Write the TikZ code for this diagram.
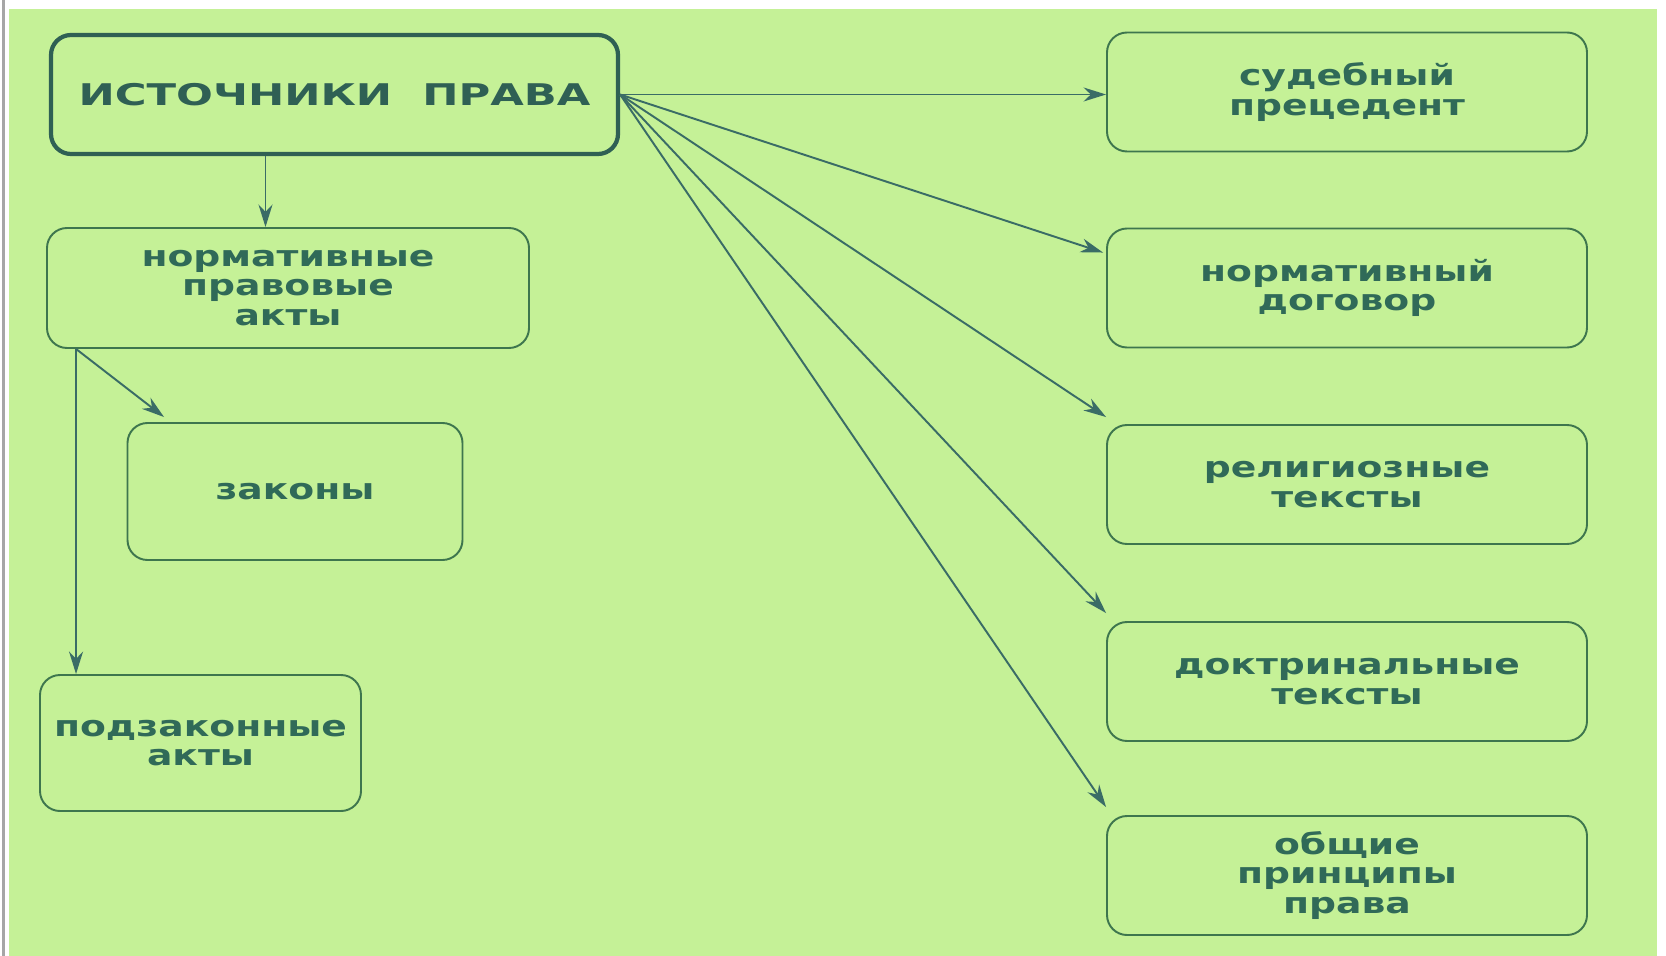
\documentclass[tikz,border=0pt]{standalone}
\usepackage{fontspec}
\usetikzlibrary{arrows.meta}
\newfontfamily\headfont{DejaVu Sans Bold}[FakeStretch=1.45]
\newfontfamily\boxfont{DejaVu Sans Bold}[FakeStretch=1.3]
\definecolor{bggreen}{RGB}{197,241,151}
\definecolor{boxline}{RGB}{62,118,78}
\definecolor{headline}{RGB}{47,96,84}
\definecolor{arrowcol}{RGB}{58,108,102}
\definecolor{textcol}{RGB}{48,106,88}

\tikzset{
	srcbox/.style={draw=headline, line width=2.4pt, rounded corners=0.4cm, minimum width=11.34cm, minimum height=2.38cm, inner sep=0pt, text=headline, font=\headfont\fontsize{17}{17}\selectfont},
	kindbox/.style={draw=boxline, line width=1.1pt, rounded corners=0.4cm, inner sep=0pt, align=center, text=textcol, font=\boxfont\fontsize{16.5}{16.8}\selectfont},
	rightbox/.style={kindbox, minimum width=9.6cm, minimum height=2.38cm},
	arr/.style={draw=arrowcol, line width=1.1pt, -{Stealth[length=0.45cm, width=0.28cm]}}
}

\begin{document}
\begin{tikzpicture}
		\useasboundingbox (0, 0) rectangle (33.32, -19.12);
		\fill[white] (0, 0) rectangle (33.32, -19.12);
		\fill[gray!70] (0.04, 0) rectangle (0.1, -19.12);
		\fill[bggreen] (0.18, -0.18) rectangle (33.14, -19.12);

		\node[srcbox] (src) at (6.69, -1.89) {ИСТОЧНИКИ\ \ ПРАВА};
		\node[kindbox, minimum width=9.64cm, minimum height=2.4cm] (npa) at (5.76, -5.76) {нормативные\\правовые\\акты};
		\node[kindbox, minimum width=6.7cm, minimum height=2.74cm] (zak) at (5.9, -9.83) {законы};
		\node[kindbox, minimum width=6.42cm, minimum height=2.72cm] (podz) at (4.01, -14.86) {подзаконные\\акты};

		\node[rightbox] (sud) at (26.94, -1.84) {судебный\\прецедент};
		\node[rightbox] (dog) at (26.94, -5.76) {нормативный\\договор};
		\node[rightbox] (rel) at (26.94, -9.69) {религиозные\\тексты};
		\node[rightbox] (dok) at (26.94, -13.63) {доктринальные\\тексты};
		\node[rightbox] (obsh) at (26.94, -17.51) {общие\\принципы\\права};

		\coordinate (srcfoot) at ([xshift=-1.38cm]src.south);
		\coordinate (npafoot) at ([xshift=0.6cm]npa.south west);

		\draw[arr] (srcfoot) -- (srcfoot |- npa.north);
		\draw[arr] (npafoot) -- ([xshift=0.75cm, yshift=0.1cm]zak.north west);
		\draw[arr] (npafoot) -- (npafoot |- podz.north);

		\draw[arr] (src.east) -- (src.east -| sud.west);
		\draw[arr] (src.east) -- ([xshift=-0.06cm, yshift=-0.5cm]dog.north west);
		\draw[arr] (src.east) -- ([yshift=0.14cm]rel.north west);
		\draw[arr] (src.east) -- ([yshift=0.16cm]dok.north west);
		\draw[arr] (src.east) -- ([yshift=0.16cm]obsh.north west);
	\end{tikzpicture}
\end{document}
